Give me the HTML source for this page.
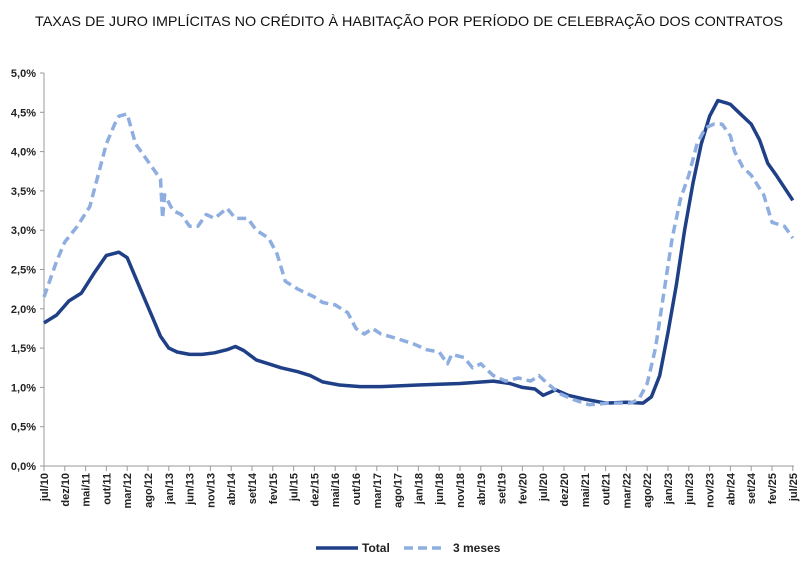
<!DOCTYPE html>
<html><head><meta charset="utf-8"><style>
body{margin:0;background:#fff;width:810px;height:561px;overflow:hidden;font-family:"Liberation Sans",sans-serif}
</style></head><body>
<svg id="s" width="810" height="561" xmlns="http://www.w3.org/2000/svg" font-family="Liberation Sans, sans-serif">
<text x="409" y="26" text-anchor="middle" font-size="14" textLength="748" lengthAdjust="spacingAndGlyphs" fill="#111">TAXAS DE JURO IMPLÍCITAS NO CRÉDITO À HABITAÇÃO POR PERÍODO DE CELEBRAÇÃO DOS CONTRATOS</text>
<g id="ax"></g>
<polyline id="p1" fill="none" stroke="#1f3f87" stroke-width="3.5" stroke-linejoin="round"/>
<polyline id="p2" fill="none" stroke="#8eaee0" stroke-width="3.5" stroke-dasharray="9,5" stroke-linejoin="round"/>
<line x1="316" y1="548" x2="358" y2="548" stroke="#1f3f87" stroke-width="3.5"/>
<text x="362" y="552" font-size="12" font-weight="bold" fill="#222">Total</text>
<line x1="404" y1="548" x2="446" y2="548" stroke="#8eaee0" stroke-width="3.5" stroke-dasharray="9,5"/>
<text x="453" y="552" font-size="12" font-weight="bold" fill="#222">3 meses</text>
</svg>
<script>
var X0=44,DX=4.16,Y0=466,K=78.6;
function px(m){return X0+m*DX}function py(v){return Y0-v*K}
var ax=document.getElementById('ax'),h='';
h+='<line x1="44" y1="73" x2="44" y2="466" stroke="#999"/><line x1="44" y1="466" x2="794" y2="466" stroke="#999"/>';
for(var i=0;i<=10;i++){var v=i*0.5,y=py(v);h+='<line x1="40" y1="'+y+'" x2="44" y2="'+y+'" stroke="#999"/><text x="36" y="'+(y+4)+'" text-anchor="end" font-size="11" font-weight="bold" fill="#222">'+v.toFixed(1).replace('.',',')+'%</text>';}
var mn=['jan','fev','mar','abr','mai','jun','jul','ago','set','out','nov','dez'];
for(var m=0;m<=180;m+=5){var x=px(m),mo=(6+m)%12,yr=10+Math.floor((6+m)/12);
h+='<line x1="'+x+'" y1="466" x2="'+x+'" y2="471" stroke="#999"/><text transform="translate('+(x+4)+',473) rotate(-90)" text-anchor="end" font-size="11" font-weight="bold" fill="#222">'+mn[mo]+'/'+yr+'</text>';}
ax.innerHTML=h;
var t=[[0,1.82],[3,1.92],[6,2.1],[9,2.2],[12,2.45],[15,2.68],[18,2.72],[20,2.65],[22,2.4],[24,2.15],[26,1.9],[28,1.65],[30,1.5],[32,1.45],[35,1.42],[38,1.42],[41,1.44],[44,1.48],[46,1.52],[48,1.47],[51,1.35],[54,1.3],[57,1.25],[61,1.2],[64,1.15],[67,1.07],[71,1.03],[76,1.01],[81,1.01],[90,1.03],[100,1.05],[108,1.08],[112,1.05],[115,1.0],[118,0.98],[120,0.9],[123,0.97],[126,0.9],[130,0.85],[135,0.8],[140,0.81],[144,0.8],[146,0.88],[148,1.15],[150,1.7],[152,2.3],[154,3.0],[156,3.6],[158,4.1],[160,4.45],[162,4.65],[164,4.62],[165,4.6],[167,4.5],[170,4.35],[172,4.15],[174,3.85],[176,3.7],[180,3.38]];
var d=[[0,2.15],[3,2.6],[5,2.85],[8,3.05],[11,3.3],[13,3.7],[15,4.1],[17,4.35],[18,4.45],[20,4.48],[22,4.1],[24,3.95],[26,3.8],[28,3.65],[28.5,3.15],[29,3.45],[31,3.25],[33,3.2],[35,3.05],[37,3.05],[39,3.2],[41,3.15],[44,3.28],[46,3.15],[49,3.15],[51,3.0],[54,2.9],[56,2.7],[58,2.35],[61,2.25],[65,2.15],[67,2.08],[70,2.05],[73,1.95],[75,1.75],[77,1.68],[79,1.75],[81,1.68],[85,1.62],[89,1.55],[92,1.48],[95,1.45],[97,1.3],[98,1.42],[101,1.38],[103,1.25],[105,1.3],[108,1.15],[111,1.08],[114,1.12],[117,1.08],[119,1.15],[121,1.05],[124,0.92],[127,0.85],[131,0.78],[136,0.8],[141,0.8],[143,0.85],[145,1.05],[147,1.5],[149,2.2],[151,2.9],[153,3.4],[155,3.7],[157,4.1],[159,4.3],[161,4.35],[163,4.35],[165,4.2],[166,4.0],[168,3.8],[170,3.7],[173,3.45],[175,3.1],[178,3.05],[180,2.9]];
function pts(a){return a.map(function(p){return px(p[0]).toFixed(1)+','+py(p[1]).toFixed(1)}).join(' ')}
document.getElementById('p1').setAttribute('points',pts(t));
document.getElementById('p2').setAttribute('points',pts(d));
</script>
</body></html>
